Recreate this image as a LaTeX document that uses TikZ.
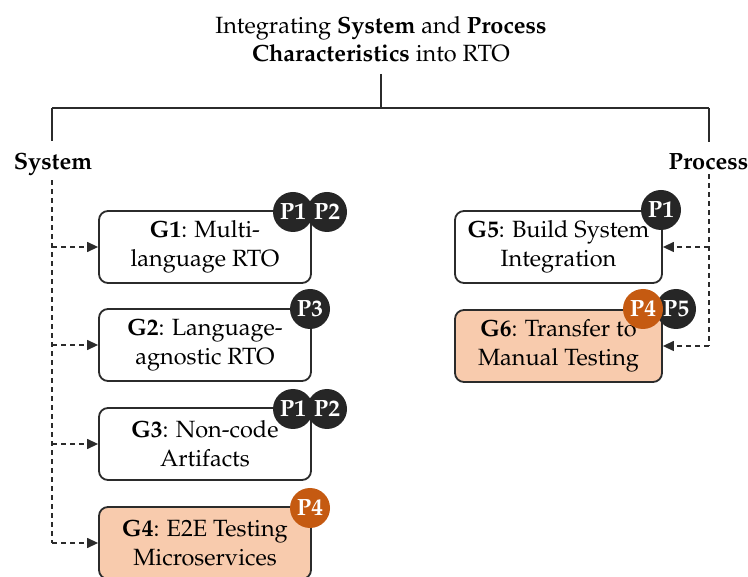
\documentclass[tikz,border=0pt]{standalone}
\usepackage[T1]{fontenc}
\usepackage{mathpazo}
\usetikzlibrary{arrows.meta}
\definecolor{ink}{HTML}{2B2B2B}
\definecolor{badgedark}{HTML}{262626}
\definecolor{badgeorange}{HTML}{C55A11}
\definecolor{goalfill}{HTML}{F8CBAD}
\begin{document}
\begin{tikzpicture}[x=1pt,y=-1pt,
  every node/.style={font=\fontsize{23.5}{28.5}\selectfont},
  goal/.style={draw=ink, line width=1.8pt, rounded corners=9pt, minimum width=212pt,
    minimum height=72pt, align=center, inner sep=0pt, fill=white},
  hot/.style={goal, fill=goalfill},
  badge/.style={circle, fill=badgedark, text=white, minimum size=40pt, inner sep=0pt,
    font=\fontsize{23.5}{28.5}\selectfont\bfseries},
  hotbadge/.style={badge, fill=badgeorange},
  tree/.style={draw=ink, line width=1.5pt},
  rail/.style={draw=ink, line width=1.3pt, dash pattern=on 5pt off 4pt},
  link/.style={rail, -{Triangle[length=11pt,width=10pt]}},
  branch/.style={font=\fontsize{23.5}{28.5}\selectfont\bfseries, inner sep=4pt, anchor=base},
]
\useasboundingbox (0,0) rectangle (748,577);

% heading and the two-way split
\node[align=center, anchor=north, inner sep=0pt] (title) at (381,16)
  {Integrating \textbf{System} and \textbf{Process}\\\textbf{Characteristics} into RTO};
\coordinate (stem) at (381,74);
\coordinate (split) at (381,108);
\coordinate (sysTop) at (52,108);
\coordinate (procTop) at (709,108);

\node[branch] (sys) at (53,170) {System};
\node[branch] (proc) at (708.5,170) {Process};

\draw[tree] (stem) -- (split);
\draw[tree] (sysTop) -- (procTop);
\draw[tree] (sysTop) -- ([yshift=8pt]sys.north -| sysTop);
\draw[tree] (procTop) -- ([yshift=8pt]proc.north -| procTop);

% goals
\node[goal] (g1) at (205,247) {\textbf{G1}: Multi-\\language RTO};
\node[goal] (g2) at (205,345) {\textbf{G2}: Language-\\agnostic RTO};
\node[goal] (g3) at (205,444) {\textbf{G3}: Non-code\\Artifacts};
\node[hot]  (g4) at (205,543) {\textbf{G4}: E2E Testing\\Microservices};
\node[goal, minimum width=207pt] (g5) at (558.5,247) {\textbf{G5}: Build System\\Integration};
\node[hot,  minimum width=207pt] (g6) at (558.5,346) {\textbf{G6}: Transfer to\\Manual Testing};

% dashed feeders
\draw[rail] (sys.south -| sysTop) -- (sysTop |- g4.west);
\draw[link] (sysTop |- g1.west) -- (g1.west);
\draw[link] (sysTop |- g2.west) -- (g2.west);
\draw[link] (sysTop |- g3.west) -- (g3.west);
\draw[link] (sysTop |- g4.west) -- (g4.west);

\draw[rail] (proc.south -| procTop) -- (procTop |- g6.east);
\draw[link] (procTop |- g5.east) -- (g5.east);
\draw[link] (procTop |- g6.east) -- (g6.east);

% problem badges
\node[badge] (g1p1) at (293,212) {P1};
\node[badge] (g1p2) at (327,212) {P2};
\node[badge] (g2p3) at (310,309) {P3};
\node[badge] (g3p1) at (293,409) {P1};
\node[badge] (g3p2) at (327,409) {P2};
\node[hotbadge] (g4p4) at (310,508) {P4};
\node[badge] (g5p1) at (661,210) {P1};
\node[badge] (g6p5) at (676,309) {P5};
\node[hotbadge] (g6p4) at (643,309) {P4};
\end{tikzpicture}
\end{document}
